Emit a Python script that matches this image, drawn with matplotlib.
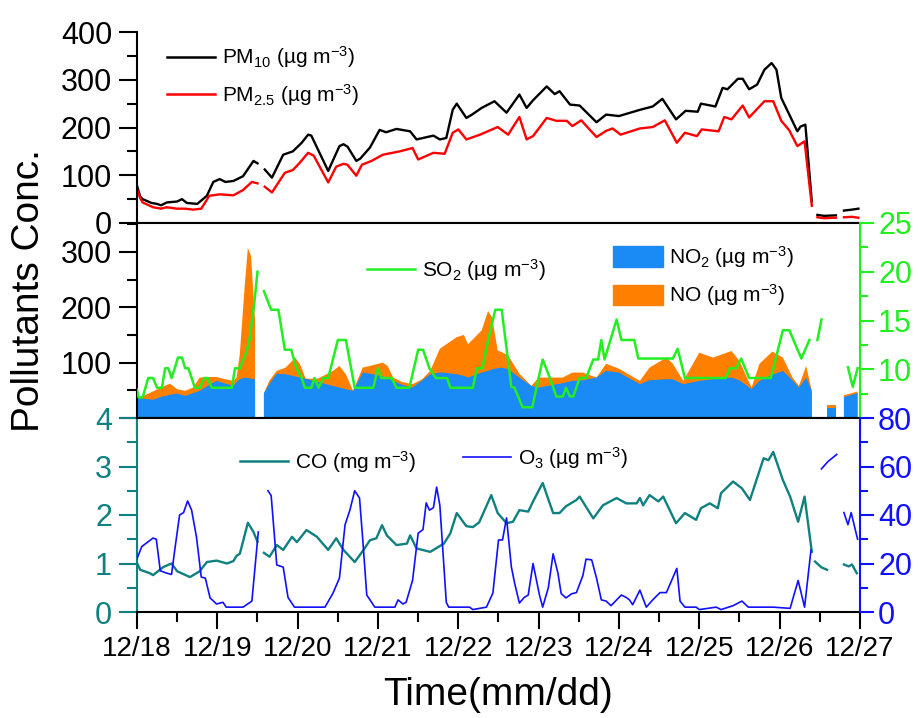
import numpy as np
import matplotlib
matplotlib.use('Agg')
import matplotlib.pyplot as plt
from matplotlib.ticker import MultipleLocator
from matplotlib.patches import Patch
from matplotlib.lines import Line2D

plt.rcParams.update({
    'font.family': ['Liberation Sans', 'DejaVu Sans'],
    'mathtext.default': 'regular',
    'axes.linewidth': 1.5,
})

nan = np.nan

# ── Data (day of December, NaN = missing) ──────────────────────────────────
T_PM10 = [18.00, 18.04, 18.07, 18.18, 18.25, 18.30, 18.37, 18.50, 18.56, 18.62, 18.75, 18.87,
          18.95, 19.03, 19.10, 19.20, 19.32, 19.45, 19.50, 19.54, 19.59, 19.68, 19.82, 19.94,
          20.05, 20.13, 20.17, 20.38, 20.52, 20.57, 20.62, 20.73, 20.78, 20.90, 21.02, 21.10,
          21.23, 21.40, 21.48, 21.69, 21.77, 21.85, 21.93, 21.98, 22.10, 22.17, 22.29, 22.45,
          22.60, 22.76, 22.85, 22.93, 23.10, 23.20, 23.26, 23.39, 23.51, 23.72, 23.84, 24.00,
          24.26, 24.42, 24.54, 24.71, 24.83, 24.98, 25.02, 25.20, 25.29, 25.35, 25.48, 25.54,
          25.62, 25.72, 25.81, 25.90, 25.96, 26.02, 26.12, 26.22, 26.26, 26.32, 26.40, 26.44,
          26.47, 26.55, 26.70, 26.75, 26.80, 26.90, 26.98]
PM10 = [78, 55, 50, 42, 40, 37, 43, 45, 50, 42, 40, 57,
        86, 92, 86, 88, 98, 130, 125, nan, 112, 95, 143, 150,
        168, 185, 183, 109, 161, 165, 160, 130, 135, 158, 195, 190,
        197, 192, 175, 183, 175, 178, 237, 250, 220, 227, 241, 255,
        231, 269, 241, 257, 286, 270, 276, 248, 246, 211, 227, 224,
        237, 244, 260, 217, 235, 233, 250, 244, 283, 280, 302, 302,
        280, 290, 321, 335, 321, 262, 227, 192, 202, 206, 45, nan,
        17, 15, 16, nan, 26, 28, 30]

T_PM25 = [18.00, 18.04, 18.07, 18.20, 18.30, 18.37, 18.50, 18.60, 18.70, 18.80, 18.90, 19.03,
          19.20, 19.32, 19.43, 19.50, 19.54, 19.59, 19.68, 19.84, 19.94, 20.02, 20.13, 20.20,
          20.38, 20.48, 20.57, 20.62, 20.73, 20.80, 20.92, 21.06, 21.27, 21.43, 21.50, 21.69,
          21.83, 21.93, 22.00, 22.10, 22.27, 22.49, 22.62, 22.76, 22.85, 22.93, 23.10, 23.22,
          23.35, 23.42, 23.53, 23.72, 23.84, 23.92, 24.02, 24.26, 24.42, 24.57, 24.72, 24.82,
          24.97, 25.03, 25.24, 25.31, 25.40, 25.54, 25.62, 25.81, 25.92, 26.02, 26.12, 26.22,
          26.31, 26.40, 26.44, 26.47, 26.55, 26.70, 26.75, 26.80, 26.90, 26.98]
PM25 = [71, 52, 43, 33, 30, 33, 30, 30, 28, 30, 57, 60,
        58, 69, 86, 83, nan, 76, 64, 105, 111, 125, 147, 141,
        85, 118, 124, 122, 99, 122, 130, 143, 150, 157, 133, 147,
        145, 189, 196, 175, 185, 201, 185, 222, 175, 182, 220, 214,
        214, 203, 215, 180, 193, 198, 185, 198, 201, 215, 168, 189,
        182, 196, 192, 222, 217, 246, 221, 255, 255, 214, 194, 161,
        171, 36, nan, 12, 10, 11, nan, 12, 13, 11]

T_NOX = [18.00, 18.08, 18.20, 18.30, 18.41, 18.50, 18.60, 18.70, 18.78, 18.90, 18.99, 19.10,
         19.20, 19.24, 19.28, 19.34, 19.38, 19.42, 19.47, 19.52, 19.58, 19.65, 19.74, 19.85,
         19.97, 20.03, 20.10, 20.25, 20.44, 20.52, 20.60, 20.69, 20.81, 20.90, 21.06, 21.12,
         21.19, 21.30, 21.43, 21.55, 21.65, 21.77, 21.81, 21.98, 22.07, 22.12, 22.29, 22.37,
         22.42, 22.49, 22.54, 22.62, 22.76, 22.91, 23.00, 23.30, 23.42, 23.55, 23.72, 23.84,
         24.00, 24.26, 24.38, 24.59, 24.67, 24.80, 25.00, 25.17, 25.40, 25.50, 25.65, 25.75,
         25.91, 26.04, 26.16, 26.24, 26.33, 26.40, 26.50, 26.59, 26.70, 26.75, 26.80, 26.90,
         26.97]
NO2 = [36, 35, 33, 38, 42, 44, 40, 45, 49, 60, 67, 62,
       58, 65, 70, 73, 72, 71, 70, nan, 45, 62, 80, 79,
       75, 73, 71, 65, 58, 55, 52, 49, 82, 80, 75, 72,
       67, 60, 55, 68, 79, 82, 82, 79, 76, 73, 82, 85,
       88, 90, 91, 88, 73, 58, 55, 63, 67, 68, 73, 85,
       82, 61, 68, 70, 70, 61, 67, 70, 73, 68, 52, 67,
       78, 85, 68, 55, 73, 49, nan, 18, 18, nan, 38, 42,
       45]
NO = [0, 5, 15, 17, 20, 8, 9, 10, 24, 14, 7, 8,
      9, 8, 46, 164, 235, 221, 106, nan, 0, 6, 5, 12,
      34, 24, 0, 6, 27, 39, 27, 0, 9, 14, 25, 22,
      6, 5, 6, 2, 6, 43, 47, 67, 74, 60, 76, 108,
      94, 32, 28, 25, 7, 0, 18, 10, 15, 14, 0, 13,
      7, 6, 23, 39, 28, 6, 51, 39, 48, 35, 3, 31,
      42, 24, 5, 3, 21, 0, nan, 6, 6, nan, 3, 3,
      3]

T_SO2 = [18.00, 18.02, 18.07, 18.14, 18.20, 18.25, 18.31, 18.35, 18.39, 18.43, 18.47, 18.51,
         18.56, 18.60, 18.64, 18.72, 18.78, 18.84, 18.88, 18.93, 19.18, 19.22, 19.28, 19.36,
         19.40, 19.46, 19.50, 19.54, 19.58, 19.67, 19.76, 19.84, 19.92, 19.98, 20.05, 20.09,
         20.17, 20.21, 20.26, 20.32, 20.38, 20.50, 20.60, 20.71, 20.94, 21.00, 21.04, 21.17,
         21.23, 21.39, 21.50, 21.56, 21.64, 21.72, 21.86, 21.90, 22.18, 22.23, 22.30, 22.35,
         22.46, 22.54, 22.66, 22.70, 22.80, 22.92, 23.05, 23.14, 23.22, 23.30, 23.34, 23.39,
         23.43, 23.51, 23.59, 23.68, 23.74, 23.78, 23.82, 23.97, 24.03, 24.19, 24.24, 24.67,
         24.73, 24.82, 25.33, 25.38, 25.46, 25.52, 25.62, 25.89, 26.04, 26.12, 26.27, 26.37,
         26.42, 26.47, 26.52, 26.60, 26.85, 26.91, 26.97]
SO2 = [7.9, 7.1, 7.1, 9.1, 9.1, 8.1, 8.1, 10.1, 10.1, 9.1, 10.1, 11.2,
       11.2, 10.1, 10.1, 8.1, 8.1, 9.1, 9.1, 8.1, 8.1, 10.1, 10.1, 11.7,
       13.0, 16.8, 20.0, nan, 18.0, 16.1, 16.1, 12.0, 12.0, 10.2, 9.1, 8.1,
       8.1, 9.1, 8.1, 9.1, 9.1, 13.0, 13.0, 8.1, 8.1, 10.1, 9.1, 9.1,
       8.1, 8.1, 12.0, 12.0, 10.1, 9.1, 9.1, 8.1, 8.1, 10.1, 10.1, 12.2,
       16.1, 16.1, 8.2, 8.1, 6.1, 6.1, 11.0, 9.1, 7.2, 7.2, 8.1, 7.2,
       7.2, 9.1, 9.1, 11.0, 11.0, 13.0, 11.0, 15.1, 13.0, 13.0, 11.1, 11.1,
       12.1, 9.1, 9.1, 10.1, 10.1, 11.1, 9.1, 9.1, 14.0, 14.0, 11.1, 13.0,
       nan, 13.0, 15.1, nan, 10.2, 8.2, 10.1]

T_CO = [18.00, 18.04, 18.16, 18.20, 18.33, 18.43, 18.50, 18.66, 18.78, 18.87, 18.99, 19.12,
        19.20, 19.24, 19.28, 19.38, 19.45, 19.50, 19.54, 19.58, 19.65, 19.74, 19.82, 19.93,
        19.99, 20.11, 20.24, 20.38, 20.48, 20.57, 20.71, 20.82, 20.90, 20.98, 21.05, 21.11,
        21.23, 21.36, 21.40, 21.48, 21.65, 21.82, 21.90, 21.98, 22.10, 22.18, 22.26, 22.41,
        22.49, 22.60, 22.68, 22.76, 22.87, 22.93, 23.05, 23.18, 23.26, 23.34, 23.47, 23.51,
        23.68, 23.80, 23.97, 24.09, 24.22, 24.26, 24.30, 24.38, 24.49, 24.55, 24.71, 24.82,
        24.96, 25.02, 25.13, 25.23, 25.27, 25.42, 25.53, 25.63, 25.80, 25.86, 25.92, 26.04,
        26.13, 26.23, 26.31, 26.40, 26.42, 26.44, 26.52, 26.59, 26.70, 26.80, 26.86, 26.90,
        26.96]
CO = [1.01, 0.87, 0.80, 0.76, 0.93, 1.00, 0.84, 0.72, 0.84, 1.03, 1.06, 1.00,
      1.05, 1.16, 1.20, 1.84, 1.65, 1.45, nan, 1.22, 1.14, 1.38, 1.28, 1.55,
      1.44, 1.69, 1.55, 1.28, 1.52, 1.28, 1.03, 1.28, 1.48, 1.52, 1.79, 1.58,
      1.38, 1.41, 1.58, 1.31, 1.24, 1.41, 1.62, 2.04, 1.77, 1.75, 1.85, 2.41,
      2.04, 1.83, 1.86, 2.10, 2.07, 2.28, 2.66, 2.04, 2.04, 2.18, 2.31, 2.38,
      1.93, 2.20, 2.35, 2.24, 2.24, 2.35, 2.20, 2.41, 2.28, 2.38, 1.83, 2.04,
      1.90, 2.14, 2.24, 2.14, 2.45, 2.69, 2.55, 2.31, 3.17, 3.13, 3.30, 2.72,
      2.38, 1.86, 2.38, 1.24, nan, 1.04, 0.92, 0.87, nan, 0.98, 0.94, 0.98,
      0.80]

T_O3 = [18.00, 18.06, 18.14, 18.20, 18.24, 18.29, 18.37, 18.43, 18.47, 18.53, 18.58, 18.63,
        18.68, 18.74, 18.80, 18.85, 18.91, 18.99, 19.07, 19.11, 19.32, 19.43, 19.51, 19.56,
        19.63, 19.67, 19.74, 19.82, 19.88, 19.96, 20.34, 20.44, 20.52, 20.59, 20.65, 20.71,
        20.77, 20.81, 20.86, 20.96, 21.21, 21.25, 21.31, 21.35, 21.43, 21.50, 21.56, 21.60,
        21.64, 21.69, 21.73, 21.77, 21.85, 21.88, 22.14, 22.18, 22.35, 22.43, 22.50, 22.55,
        22.60, 22.66, 22.70, 22.76, 22.82, 22.87, 22.93, 23.01, 23.05, 23.12, 23.18, 23.24,
        23.28, 23.34, 23.41, 23.47, 23.55, 23.59, 23.66, 23.72, 23.78, 23.84, 23.90, 24.03,
        24.09, 24.13, 24.17, 24.26, 24.34, 24.42, 24.51, 24.59, 24.72, 24.76, 24.82, 24.96,
        25.00, 25.21, 25.27, 25.42, 25.53, 25.61, 25.92, 26.13, 26.23, 26.31, 26.39, 26.45,
        26.52, 26.60, 26.71, 26.76, 26.80, 26.85, 26.89, 26.97]
O3 = [22, 27, 29, 30.5, 30, 17, 16, 15.5, 25.6, 40, 41, 45.8,
      42, 31, 14.4, 14, 5.8, 3.3, 4, 2, 2, 4.5, 33, nan,
      50, 48, 19.4, 18.5, 6, 2, 2, 7.8, 14, 36, 42, 50,
      47, 30, 7, 2, 2, 5, 3.3, 4, 13, 32.5, 34, 45,
      42, 43, 51.5, 44, 4, 2, 2, 1, 2, 7.8, 29.7, 29.7,
      38.8, 18.6, 12, 3.7, 6, 7, 20, 7, 2, 10, 24, 16,
      7.6, 5.8, 7.5, 8, 15, 21.8, 21.5, 14, 5, 4.5, 2.6, 7,
      6, 5, 3, 9, 2, 5, 8, 8, 18, 4.5, 2, 2,
      1, 2, 1, 2.6, 4.5, 2, 2, 1.5, 13, 2, 25.6, nan,
      59, 62, 65, nan, 41, 36, 41, 30]

DAYS = list(range(18, 28))
DAY_LABELS = [f'12/{d}' for d in DAYS]

# ── Colours ─────────────────────────────────────────────────────────────────
C_PM10, C_PM25 = 'black', '#FF0000'
C_NO2, C_NO, C_SO2 = '#1A8AF5', '#FF8000', '#22EE22'
C_CO, C_O3 = '#108080', '#1010FF'

fig = plt.figure(figsize=(9.18, 7.18), dpi=100)
L, W = 137 / 918, 723 / 918


def ypos(top_px, bot_px):
    return [L, 1 - bot_px / 718, W, (bot_px - top_px) / 718]


ax1 = fig.add_axes(ypos(32, 223))
ax2 = fig.add_axes(ypos(223, 418), sharex=ax1)
ax3 = fig.add_axes(ypos(418, 612), sharex=ax1)
ax2r = ax2.twinx()
ax3r = ax3.twinx()

# ── Top: PM ────────────────────────────────────────────────────────────────
ax1.plot(T_PM10, PM10, color=C_PM10, lw=1.7)
ax1.plot(T_PM25, PM25, color=C_PM25, lw=1.7)
ax1.set_ylim(0, 400)
ax1.set_yticks([0, 100, 200, 300, 400])
ax1.yaxis.set_minor_locator(MultipleLocator(50))
ax1.spines[['top', 'right']].set_visible(False)
ax1.legend(handles=[Line2D([], [], color=C_PM10, lw=1.8, label=r'PM$_{10}$ (µg m$^{-3}$)'),
                    Line2D([], [], color=C_PM25, lw=1.8, label=r'PM$_{2.5}$ (µg m$^{-3}$)')],
           loc='center left', bbox_to_anchor=(0.0415, 0.77), frameon=False, fontsize=15,
           handlelength=2.3, handletextpad=0.35, labelspacing=0.55, borderpad=0, borderaxespad=0)

# ── Middle: NO2 / NO / SO2 ─────────────────────────────────────────────────
no2 = np.array(NO2, dtype=float)
nox = no2 + np.array(NO, dtype=float)
ax2.fill_between(T_NOX, 0, nox, color=C_NO, lw=0)
ax2.fill_between(T_NOX, 0, no2, color=C_NO2, lw=0)
ax2.set_ylim(0, 352)
ax2.set_yticks([0, 100, 200, 300])
ax2.set_yticklabels(['', '100', '200', '300'])
ax2.yaxis.set_minor_locator(MultipleLocator(50))
ax2.spines['right'].set_visible(False)
ax2.legend(handles=[Patch(color=C_NO2, label=r'NO$_2$ (µg m$^{-3}$)'),
                    Patch(color=C_NO, label=r'NO (µg m$^{-3}$)')],
           loc='center left', bbox_to_anchor=(0.658, 0.728), frameon=False, fontsize=15,
           handlelength=2.4, handleheight=1.15, handletextpad=0.3, labelspacing=0.6,
           borderpad=0, borderaxespad=0)

ax2r.plot(T_SO2, SO2, color=C_SO2, lw=1.8)
ax2r.set_ylim(5, 25)
ax2r.set_yticks([10, 15, 20, 25])
ax2r.yaxis.set_minor_locator(MultipleLocator(2.5))
ax2r.spines[['left', 'top', 'bottom']].set_visible(False)
ax2r.spines['right'].set_color(C_SO2)
ax2r.legend(handles=[Line2D([], [], color=C_SO2, lw=1.8, label=r'SO$_2$ (µg m$^{-3}$)')],
            loc='center left', bbox_to_anchor=(0.318, 0.759), frameon=False, fontsize=15,
            handlelength=2.3, handletextpad=0.35, borderpad=0, borderaxespad=0)

# ── Bottom: CO / O3 ────────────────────────────────────────────────────────
ax3.plot(T_CO, CO, color=C_CO, lw=1.7)
ax3.set_ylim(0, 4)
ax3.set_yticks([0, 1, 2, 3, 4])
ax3.yaxis.set_minor_locator(MultipleLocator(0.5))
ax3.spines['right'].set_visible(False)
ax3.spines['left'].set_color(C_CO)
ax3.legend(handles=[Line2D([], [], color=C_CO, lw=1.8, label=r'CO (mg m$^{-3}$)')],
           loc='center left', bbox_to_anchor=(0.1425, 0.773), frameon=False, fontsize=15,
           handlelength=2.3, handletextpad=0.35, borderpad=0, borderaxespad=0)

ax3r.plot(T_O3, O3, color=C_O3, lw=1.2)
ax3r.set_ylim(0, 80)
ax3r.set_yticks([0, 20, 40, 60, 80])
ax3r.yaxis.set_minor_locator(MultipleLocator(10))
ax3r.spines[['left', 'top', 'bottom']].set_visible(False)
ax3r.spines['right'].set_color(C_O3)
ax3r.legend(handles=[Line2D([], [], color=C_O3, lw=1.2, label=r'O$_3$ (µg m$^{-3}$)')],
            loc='center left', bbox_to_anchor=(0.451, 0.794), frameon=False, fontsize=15,
            handlelength=2.3, handletextpad=0.35, borderpad=0, borderaxespad=0)

# ── Ticks ──────────────────────────────────────────────────────────────────
ax3.set_xlim(18, 27)
ax3.set_xticks(DAYS)
ax3.set_xticklabels(DAY_LABELS)
ax3.xaxis.set_minor_locator(MultipleLocator(0.5))
for ax in (ax1, ax2, ax3):
    ax.tick_params(axis='x', which='major', direction='out', length=12, width=1.5,
                   labelsize=20, pad=5)
    ax.tick_params(axis='x', which='minor', direction='out', length=7, width=1.5)
    ax.tick_params(axis='y', which='major', direction='out', length=13, width=1.5,
                   labelsize=22, pad=5)
    ax.tick_params(axis='y', which='minor', direction='out', length=7, width=1.5)
ax1.tick_params(axis='x', labelbottom=False)
ax2.tick_params(axis='x', labelbottom=False)
ax3.tick_params(axis='y', which='both', colors=C_CO)
for axr, col in ((ax2r, C_SO2), (ax3r, C_O3)):
    axr.tick_params(axis='y', which='major', direction='out', length=10, width=1.5,
                    labelsize=22, pad=3, colors=col)
    axr.tick_params(axis='y', which='minor', direction='out', length=6, width=1.5, colors=col)

fig.text(29 / 918, 1 - 291 / 718, 'Pollutants Conc.', rotation=90, ha='center',
         va='center', fontsize=28)
fig.text(498 / 918, 1 - 695 / 718, 'Time(mm/dd)', ha='center', va='center', fontsize=28)

fig.savefig('out.png', dpi=100)
